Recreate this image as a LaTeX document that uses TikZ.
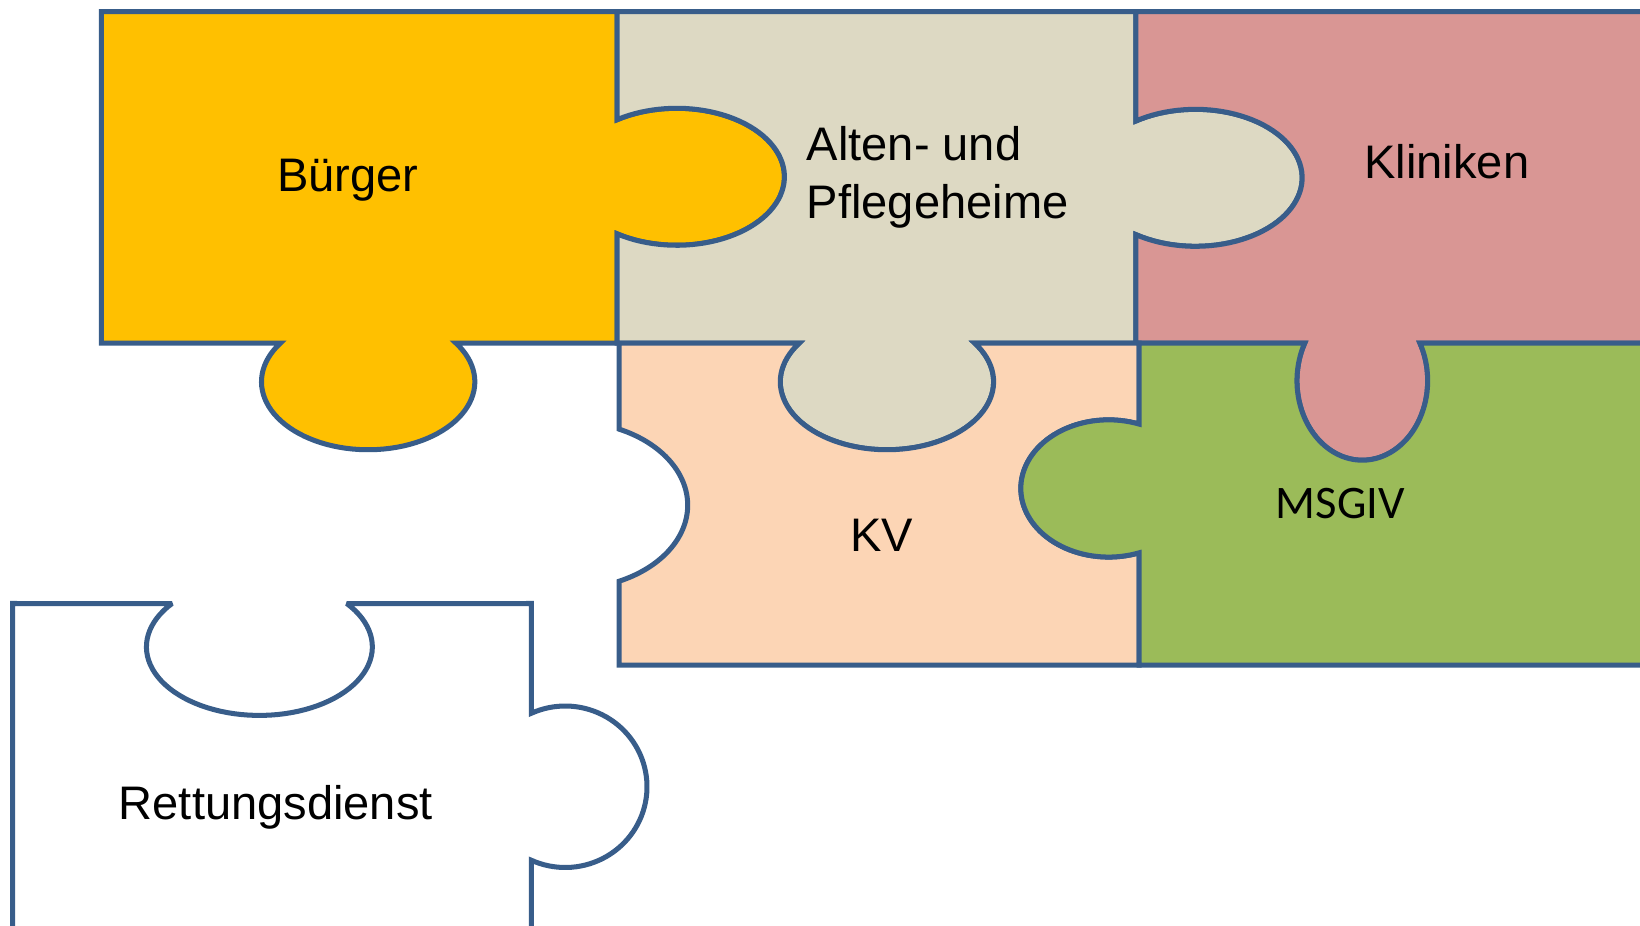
\documentclass[tikz,border=0pt]{standalone}
\usepackage{fontspec}
\setmainfont{Liberation Sans}
\newfontfamily\calibrifont{Carlito}
\definecolor{edgeblue}{HTML}{385D8A}
\definecolor{cburger}{HTML}{FFC000}
\definecolor{calten}{HTML}{DDD9C3}
\definecolor{cklinik}{HTML}{D99694}
\definecolor{ckv}{HTML}{FCD5B5}
\definecolor{cmsgiv}{HTML}{9BBB59}
\begin{document}
\begin{tikzpicture}[x=0.5pt,y=-0.5pt,samples=72,
  piece/.style={draw=edgeblue, line width=2.4pt, line join=miter, miter limit=3},
  lbl/.style={font=\fontsize{22.5}{27}\selectfont, inner sep=0pt, anchor=base},
  lblw/.style={font=\fontsize{22.5}{27}\selectfont, inner sep=0pt, anchor=base west}]
\useasboundingbox (0,0) rectangle (1568,885);
\clip (0,0) rectangle (1568,885);
% Buerger
\path[piece, fill=cburger] (97,11) -- (590,11)
  -- plot[domain=-123.6:123.6] ({647+103*cos(\x)},{169+65.5*sin(\x)})
  -- (590,328)
  -- plot[domain=-34.7:214.7] ({352+102*cos(\x)},{365+65*sin(\x)})
  -- (97,328) -- cycle;
% Alten- und Pflegeheime
\path[piece, fill=calten] (590,11) -- (1086,11)
  -- plot[domain=-124:124] ({1143+102*cos(\x)},{170+65.5*sin(\x)})
  -- (1086,328)
  -- plot[domain=-34.7:214.7] ({848+102*cos(\x)},{365+65*sin(\x)})
  -- (590,328)
  -- plot[domain=-123.6:123.6] ({647+103*cos(\x)},{169-65.5*sin(\x)})
  -- cycle;
% Kliniken
\path[piece, fill=cklinik] (1086,11) -- (1600,11) -- (1600,328)
  -- plot[domain=-28.3:208.3] ({1302.5+62.5*cos(\x)},{364+76*sin(\x)})
  -- (1086,328)
  -- plot[domain=-124:124] ({1143+102*cos(\x)},{170-65.5*sin(\x)})
  -- cycle;
% KV
\path[piece, fill=ckv] (592,328)
  -- plot[domain=-34.7:214.7] ({848-102*cos(\x)},{365+65*sin(\x)})
  -- (1089,328)
  -- plot[domain=69.8:290.2] ({1060+84*cos(\x)},{467-65.6*sin(\x)})
  -- (1089,636) -- (592,636)
  -- plot[domain=-65.3:65.3] ({545+112.5*cos(\x)},{483-80*sin(\x)})
  -- cycle;
% MSGIV
\path[piece, fill=cmsgiv] (1089,328)
  -- plot[domain=-28.3:208.3] ({1302.5-62.5*cos(\x)},{364+76*sin(\x)})
  -- (1600,328) -- (1600,636) -- (1089,636)
  -- plot[domain=69.8:290.2] ({1060+84*cos(\x)},{467+65.6*sin(\x)})
  -- cycle;
% Rettungsdienst
\path[piece, fill=white] (12,900) -- (12,577)
  -- plot[domain=-39.3:219.3] ({248-108*cos(\x)},{618.5+65.5*sin(\x)})
  -- (508,577)
  -- plot[domain=-114.5:114.5] ({540.4+78.2*cos(\x)},{752.2+77.2*sin(\x)})
  -- (508,900);
% labels
\node[lbl] (buerger) at (332.5,183.3) {Bürger};
\node[lblw] (alten1) at (771,153) {Alten- und};
\node[lblw] (alten2) at (771,208.7) {Pflegeheime};
\node[lbl] (kliniken) at (1383.4,170.5) {Kliniken};
\node[lbl] (kv) at (843,527.5) {KV};
\node[lbl, font=\calibrifont\fontsize{22.3}{27}\selectfont] (msgiv) at (1281.5,495.6) {MSGIV};
\node[lbl] (rettung) at (263.7,783.4) {Rettungsdienst};
\end{tikzpicture}
\end{document}
